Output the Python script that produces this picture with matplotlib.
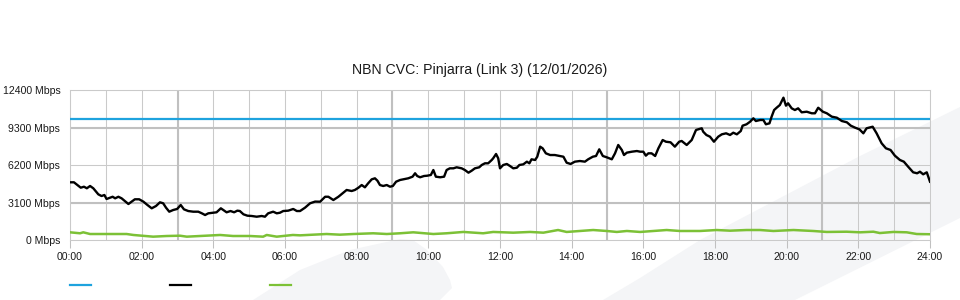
import matplotlib
matplotlib.use("Agg")
import matplotlib.pyplot as plt
from matplotlib.patches import Polygon
from matplotlib.lines import Line2D

plt.rcParams["font.family"] = ["Liberation Sans", "DejaVu Sans"]

TITLE = "NBN CVC: Pinjarra (Link 3) (12/01/2026)"

# capacity line (Mbps)
cap_hours = [0, 24]
cap_mbps = [10000, 10000]

# traffic, black series (hours, Mbps)
traffic_hours = [
    0.00, 0.11, 0.23, 0.30, 0.39, 0.47, 0.56, 0.65, 0.79, 0.88, 0.96, 1.02, 1.12, 1.19,
    1.26, 1.35, 1.44, 1.53, 1.63, 1.72, 1.81, 1.93, 2.05, 2.16, 2.28, 2.40, 2.51, 2.60,
    2.68, 2.77, 2.88, 2.99, 3.09, 3.18, 3.30, 3.44, 3.58, 3.68, 3.77, 3.86, 4.00, 4.09,
    4.21, 4.28, 4.37, 4.48, 4.58, 4.67, 4.74, 4.84, 4.95, 5.07, 5.21, 5.35, 5.44, 5.53,
    5.67, 5.77, 5.86, 5.95, 6.09, 6.23, 6.33, 6.42, 6.56, 6.70, 6.84, 6.98, 7.12, 7.21,
    7.35, 7.49, 7.63, 7.72, 7.86, 7.95, 8.05, 8.14, 8.23, 8.32, 8.42, 8.51, 8.58, 8.65,
    8.74, 8.84, 8.93, 9.01, 9.10, 9.21, 9.30, 9.44, 9.56, 9.63, 9.69, 9.77, 9.88, 9.97,
    10.07, 10.14, 10.21, 10.33, 10.44, 10.51, 10.60, 10.70, 10.79, 10.93, 11.02, 11.12,
    11.21, 11.30, 11.42, 11.49, 11.58, 11.67, 11.77, 11.81, 11.89, 11.95, 12.00, 12.09,
    12.19, 12.28, 12.37, 12.47, 12.54, 12.65, 12.75, 12.82, 12.88, 12.98, 13.04, 13.12,
    13.19, 13.28, 13.40, 13.53, 13.67, 13.77, 13.86, 13.97, 14.09, 14.23, 14.37, 14.46,
    14.59, 14.68, 14.77, 14.87, 14.98, 15.12, 15.21, 15.30, 15.40, 15.46, 15.54, 15.68,
    15.82, 15.91, 16.00, 16.07, 16.14, 16.23, 16.33, 16.42, 16.54, 16.63, 16.76, 16.88,
    17.00, 17.07, 17.21, 17.35, 17.47, 17.63, 17.67, 17.76, 17.86, 17.97, 18.09, 18.19,
    18.31, 18.42, 18.51, 18.61, 18.72, 18.77, 18.88, 18.98, 19.07, 19.14, 19.26, 19.35,
    19.42, 19.52, 19.58, 19.65, 19.72, 19.81, 19.91, 19.98, 20.04, 20.14, 20.23, 20.32,
    20.42, 20.56, 20.70, 20.79, 20.88, 21.01, 21.12, 21.26, 21.40, 21.54, 21.68, 21.79,
    21.91, 22.03, 22.14, 22.23, 22.40, 22.51, 22.65, 22.77, 22.90, 23.02, 23.16, 23.27,
    23.39, 23.53, 23.64, 23.72, 23.81, 23.91, 24.00,
]
traffic_mbps = [
    4795, 4795, 4514, 4350, 4430, 4300, 4490, 4300, 3800, 3660, 3745, 3414, 3520, 3600,
    3470, 3600, 3470, 3250, 3000, 3190, 3390, 3390, 3190, 2920, 2645, 2835, 3140, 3060,
    2695, 2365, 2505, 2590, 2920, 2560, 2420, 2365, 2365, 2230, 2090, 2230, 2280, 2315,
    2645, 2505, 2315, 2420, 2315, 2450, 2420, 2150, 2035, 2010, 1950, 2010, 1950, 2230,
    2365, 2230, 2280, 2420, 2450, 2590, 2420, 2420, 2700, 3060, 3200, 3190, 3600, 3600,
    3330, 3600, 3935, 4160, 4075, 4160, 4350, 4570, 4380, 4710, 5040, 5125, 4925, 4570,
    4490, 4570, 4430, 4490, 4845, 4985, 5040, 5125, 5260, 5540, 5315, 5210, 5315, 5340,
    5400, 5810, 5260, 5210, 5260, 5810, 5950, 5950, 6035, 5950, 5810, 5590,
    5755, 5950, 6035, 6225, 6365, 6365, 6640, 6780, 7135, 6780, 5950, 6225,
    6310, 6140, 5950, 6000, 6225, 6280, 6500, 6365, 6695, 6640, 6910, 7740,
    7605, 7190, 7050, 7050, 6970, 6910, 6415, 6310, 6500, 6555, 6500, 6695,
    6910, 6970, 7520, 6970, 6860, 6695, 7190, 7880, 7465, 7050, 7245, 7325,
    7380, 7325, 7325, 6995, 7190, 7190, 6970, 7605, 8290, 8150, 8100, 7740,
    8150, 8210, 7880, 8290, 9120, 9260, 8980, 8705, 8565, 8150, 8565, 8760,
    8845, 8705, 8895, 8760, 9035, 9475, 9590, 9805, 10085, 9860, 9945, 9945,
    9590, 9670, 10220, 10770, 10960, 11185, 11790, 11130, 11325, 10910, 10770, 10910,
    10580, 10630, 10500, 10500, 10960, 10630, 10500, 10220, 10135, 9860, 9755, 9475,
    9310, 9175, 8845, 9260, 9390, 8845, 8020, 7605, 7465, 6995, 6640, 6500,
    6085, 5620, 5540, 5670, 5455, 5620, 4845,
]

# traffic, green series (hours, Mbps)
upload_hours = [
    0.00, 0.28, 0.37, 0.56, 1.58, 1.77, 2.32, 2.70, 3.07, 3.26, 4.19, 4.55, 5.02, 5.39,
    5.49, 5.77, 6.22, 6.42, 7.16, 7.53, 7.91, 8.46, 8.84, 9.21, 9.58, 10.14, 10.51,
    10.98, 11.53, 11.81, 12.37, 12.84, 13.21, 13.62, 13.86, 14.23, 14.60, 14.98, 15.26,
    15.54, 15.91, 16.28, 16.65, 17.02, 17.58, 18.05, 18.42, 18.88, 19.26, 19.63, 20.19,
    20.74, 21.12, 21.67, 22.05, 22.42, 22.60, 22.98, 23.35, 23.63, 24.00,
]
upload_mbps = [
    660, 580, 660, 520, 520, 440, 300, 355, 380, 300, 440, 355, 355, 300,
    440, 300, 440, 410, 520, 465, 520, 580, 520, 580, 660, 520, 580,
    690, 580, 690, 630, 690, 630, 850, 690, 770, 850, 770, 690,
    770, 690, 770, 850, 770, 770, 850, 795, 850, 850, 770, 850,
    770, 690, 710, 660, 710, 600, 690, 660, 520, 500,
]

y_ticks = [0, 3100, 6200, 9300, 12400]
y_major = [3100, 9300]
x_major = [3, 9, 15, 21]

BLUE = "#1ea3de"
GREEN = "#7cc136"
GRID = "#cacaca"
GRID_DARK = "#c0c0c0"
SHAPE = "#f4f5f7"

W, H = 960, 300
fig = plt.figure(figsize=(W / 100, H / 100), dpi=100, facecolor="white")


def px(points):
    return [(x / W, 1 - y / H) for x, y in points]


# background decoration
blob = px([(253, 300), (300, 270), (350, 250), (400, 239), (413, 240), (427, 250),
           (443, 267), (450, 280), (452, 288), (440, 300)])
band = px([(603, 300), (640, 278), (700, 240), (860, 156), (960, 107), (960, 218), (795, 300)])
for pts in (blob, band):
    fig.patches.append(Polygon(pts, closed=True, transform=fig.transFigure,
                               facecolor=SHAPE, edgecolor="none", zorder=-5))

ax = fig.add_axes([70 / W, 1 - 240.3 / H, 860 / W, 150 / H])
ax.set_facecolor("none")
ax.set_zorder(2)

ax.set_xlim(0, 24)
ax.set_ylim(0, 12400)

ax.set_xticks(range(0, 25, 2))
ax.set_xticklabels([f"{h:02d}:00" for h in range(0, 25, 2)])
ax.set_xticks(range(0, 25), minor=True)
ax.set_yticks(y_ticks)
ax.set_yticklabels([f"{v} Mbps" for v in y_ticks])

ax.tick_params(axis="x", which="major", direction="out", length=6, width=0.75,
               color=GRID_DARK, labelsize=7.6, labelcolor="#1a1a1a", pad=2.5)
ax.tick_params(axis="x", which="minor", length=0)
ax.tick_params(axis="y", length=0, labelsize=7.6, labelcolor="#1a1a1a", pad=7)

ax.grid(True, which="both", axis="x", color=GRID, linewidth=0.75)
ax.grid(True, which="major", axis="y", color=GRID, linewidth=0.75)
for h in x_major:
    ax.axvline(h, color=GRID_DARK, linewidth=1.5, zorder=0.6)
for v in y_major:
    ax.axhline(v, color=GRID_DARK, linewidth=1.5, zorder=0.6)
ax.set_axisbelow(True)

for s in ax.spines.values():
    s.set_color(GRID)
    s.set_linewidth(0.75)

ax.plot(cap_hours, cap_mbps, color=BLUE, linewidth=1.6, solid_capstyle="butt", zorder=3)
ax.plot(upload_hours, upload_mbps, color=GREEN, linewidth=1.8, zorder=3)
ax.plot(traffic_hours, traffic_mbps, color="black", linewidth=1.7, zorder=4)

fig.text(0.5, 1 - 70 / H, TITLE, ha="center", va="center", fontsize=10.2, color="#1a1a1a")

# legend swatches (no labels in the original)
for x0, c in ((70, BLUE), (170, "black"), (270, GREEN)):
    fig.add_artist(Line2D([x0 / W, (x0 + 21) / W], [1 - 285 / H, 1 - 285 / H],
                          transform=fig.transFigure, color=c, linewidth=1.6))

fig.savefig("out.png", dpi=100, facecolor="white")
